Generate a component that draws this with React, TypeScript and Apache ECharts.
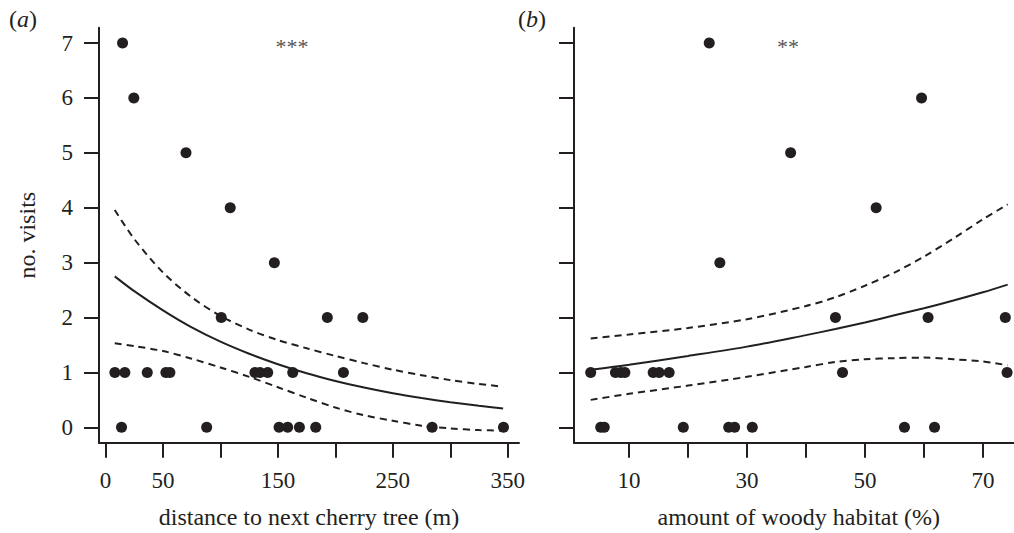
import React, { useEffect, useRef } from "react";
import * as echarts from "echarts";

// Panel (a): distance to next cherry tree (m) vs no. visits
const distX = [14.8, 24.6, 70, 108.5, 146.9, 100.7, 193, 223.9, 8.1, 16.8, 36.3, 52.5, 56, 130, 134.4, 141.1, 162.9, 207, 13.9, 88, 151, 158.5, 168.7, 182.9, 284.2, 346.3];
const distVisits = [7, 6, 5, 4, 3, 2, 2, 2, 1, 1, 1, 1, 1, 1, 1, 1, 1, 1, 0, 0, 0, 0, 0, 0, 0, 0];
const distCurveX = [8, 25, 50, 75, 100, 125, 150, 175, 200, 225, 250, 275, 300, 325, 346];
const distFit = [2.75, 2.48, 2.13, 1.82, 1.56, 1.34, 1.15, 0.985, 0.845, 0.724, 0.62, 0.533, 0.457, 0.392, 0.345];
const distUpper = [3.96, 3.43, 2.82, 2.37, 2.03, 1.78, 1.59, 1.44, 1.3, 1.17, 1.05, 0.95, 0.86, 0.79, 0.74];
const distLower = [1.53, 1.48, 1.39, 1.25, 1.09, 0.92, 0.73, 0.54, 0.36, 0.22, 0.12, 0.03, -0.02, -0.05, -0.06];

// Panel (b): amount of woody habitat (%) vs no. visits
const woodyX = [23.6, 59.6, 37.4, 51.9, 25.4, 45, 60.7, 73.8, 3.5, 7.7, 8.6, 9.3, 14.1, 15.1, 16.8, 46.2, 74.1, 5.2, 5.8, 19.2, 26.9, 27.9, 30.9, 56.7, 61.8];
const woodyVisits = [7, 6, 5, 4, 3, 2, 2, 2, 1, 1, 1, 1, 1, 1, 1, 1, 1, 0, 0, 0, 0, 0, 0, 0, 0];
const woodyCurveX = [3.5, 10, 20, 30, 40, 45, 50, 55, 60, 65, 70, 74.2];
const woodyFit = [1.05, 1.14, 1.3, 1.47, 1.68, 1.79, 1.91, 2.04, 2.17, 2.31, 2.46, 2.6];
const woodyUpper = [1.62, 1.69, 1.81, 1.97, 2.21, 2.37, 2.58, 2.82, 3.11, 3.44, 3.79, 4.06];
const woodyLower = [0.5, 0.61, 0.76, 0.92, 1.1, 1.19, 1.24, 1.26, 1.27, 1.24, 1.2, 1.13];

const yTicks = [0, 1, 2, 3, 4, 5, 6, 7];
const distTicks = [0, 50, 100, 150, 200, 250, 300, 350];
const distLabels = [0, 50, 150, 250, 350];
const woodyTicks = [10, 20, 30, 40, 50, 60, 70];
const woodyLabels = [10, 30, 50, 70];

const FONT = "Liberation Serif";
const INK = "#231f20";

const zip = (xs: number[], ys: number[]) => xs.map((x, i) => [x, ys[i]]);

export default function App() {
  const ref = useRef<HTMLDivElement>(null);
  useEffect(() => {
    if (!ref.current) return;
    const chart = echarts.init(ref.current, undefined, { renderer: "svg" });
    const axisLine = { show: true, onZero: false, lineStyle: { color: INK, width: 2 } };
    const label = (vals: number[] | null) => ({
      show: vals !== null,
      customValues: vals || undefined,
      margin: 26,
      fontSize: 23,
      color: INK,
      fontFamily: FONT,
    });
    const tick = (vals: number[]) => ({ show: true, inside: false, length: 15, customValues: vals, lineStyle: { color: INK, width: 2 } });
    const nameStyle = { fontSize: 24, color: INK, fontFamily: FONT };
    const scatter = (xs: number[], ys: number[], idx: number) => ({
      type: "scatter",
      xAxisIndex: idx,
      yAxisIndex: idx,
      symbolSize: 11,
      itemStyle: { color: INK, opacity: 1 },
      data: zip(xs, ys),
      z: 3,
    });
    const line = (xs: number[], ys: number[], idx: number, dashed: boolean) => ({
      type: "line",
      xAxisIndex: idx,
      yAxisIndex: idx,
      showSymbol: false,
      symbol: "none",
      smooth: 0.3,
      lineStyle: { color: INK, width: 2, type: dashed ? [7, 5] : "solid" },
      data: zip(xs, ys),
      z: 2,
    });
    const rich = {
      n: { fontSize: 24, fontFamily: FONT, fill: INK, color: INK },
      i: { fontSize: 24, fontFamily: FONT, fontStyle: "italic", fill: INK, color: INK },
    };
    chart.setOption({
      animation: false,
      backgroundColor: "#ffffff",
      grid: [
        { left: 99, top: 27.7, width: 420, height: 415, outerBoundsMode: "none" },
        { left: 574, top: 27.7, width: 449.6, height: 415, outerBoundsMode: "none" },
      ],
      xAxis: [
        {
          type: "value", gridIndex: 0, min: -5.7, max: 359.8,
          axisLine, axisTick: tick(distTicks), axisLabel: label(distLabels), splitLine: { show: false },
          name: "distance to next cherry tree (m)", nameLocation: "middle", nameGap: 62, nameTextStyle: nameStyle,
        },
        {
          type: "value", gridIndex: 1, min: 0.67, max: 76.9,
          axisLine, axisTick: tick(woodyTicks), axisLabel: label(woodyLabels), splitLine: { show: false },
          name: "amount of woody habitat (%)", nameLocation: "middle", nameGap: 62, nameTextStyle: nameStyle,
        },
      ],
      yAxis: [
        {
          type: "value", gridIndex: 0, min: -0.28, max: 7.28,
          axisLine, axisTick: tick(yTicks), axisLabel: label(yTicks), splitLine: { show: false },
          name: "no. visits", nameLocation: "middle", nameGap: 60, nameTextStyle: nameStyle,
        },
        {
          type: "value", gridIndex: 1, min: -0.28, max: 7.28,
          axisLine, axisTick: tick(yTicks), axisLabel: label(null), splitLine: { show: false },
        },
      ],
      series: [
        line(distCurveX, distFit, 0, false),
        line(distCurveX, distUpper, 0, true),
        line(distCurveX, distLower, 0, true),
        scatter(distX, distVisits, 0),
        line(woodyCurveX, woodyFit, 1, false),
        line(woodyCurveX, woodyUpper, 1, true),
        line(woodyCurveX, woodyLower, 1, true),
        scatter(woodyX, woodyVisits, 1),
      ],
      graphic: [
        { type: "text", left: 9, top: 7, style: { text: "{n|(}{i|a}{n|)}", rich } },
        { type: "text", left: 518, top: 7, style: { text: "{n|(}{i|b}{n|)}", rich } },
        {
          type: "text", x: 292, y: 46,
          style: { text: "***", fontSize: 22, fontFamily: FONT, fill: "#555555", align: "center", verticalAlign: "middle" },
        },
        {
          type: "text", x: 788, y: 46,
          style: { text: "**", fontSize: 22, fontFamily: FONT, fill: "#555555", align: "center", verticalAlign: "middle" },
        },
      ],
    });
    return () => chart.dispose();
  }, []);
  return (
    <div
      ref={ref}
      style={{ position: "absolute", left: 0, top: 0, width: 1014, height: 533, background: "#fff", overflow: "hidden" }}
    />
  );
}
